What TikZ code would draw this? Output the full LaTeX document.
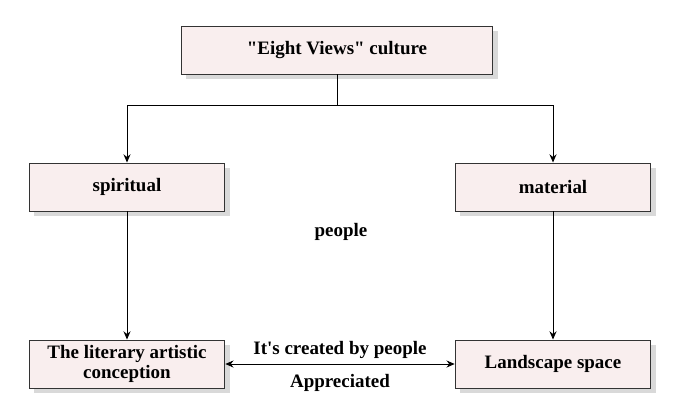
\documentclass[tikz,border=0pt]{standalone}
\usepackage{fontspec}
\defaultfontfeatures[\rmfamily]{}
\setmainfont{Liberation Serif}
\usetikzlibrary{shadows, arrows.meta}
\definecolor{boxfill}{HTML}{F9EEEE}
\tikzset{
  box/.style={draw=black!80, fill=boxfill, line width=0.8pt, minimum width=#1, minimum height=41pt,
    align=center, inner sep=1pt, font=\fontsize{16.2}{17.5}\selectfont\bfseries,
    drop shadow={shadow xshift=4pt, shadow yshift=-4pt, fill=black!15, opacity=1}},
  box/.default=167pt,
  lbl/.style={font=\fontsize{16.2}{17.5}\selectfont\bfseries}
}
\begin{document}
\begin{tikzpicture}[x=0.03cm, y=-0.03cm, line width=0.8pt, >={Stealth[length=7pt, width=6pt]}] %{,}
\useasboundingbox (0,0) rectangle (680,392);
\node[box=266pt] (P_0_0) at (337,50) {"Eight Views" culture};
\node[box] (P_1_0) at (127,187) {spiritual};
\node[box] (P_1_1) at (553,187) {material};
\node[lbl] (P_1_2) at (341,232) {people};
\node[box] (P_2_0) at (127,364) {The literary artistic\\conception};
\node[box] (P_2_1) at (553,364) {Landscape space};
\coordinate (J_0) at (337,105);
\draw (P_0_0) -- (J_0);
\draw[->] (J_0) -| (P_1_0);
\draw[->] (J_0) -| (P_1_1);
\draw[->] (P_1_0) -- (P_2_0);
\draw[->] (P_1_1) -- (P_2_1);
\draw[<->] (P_2_0) -- (P_2_1) node[midway, above=1pt, lbl] {It's created by people}
  node[midway, below=5pt, lbl] {Appreciated};
\end{tikzpicture}
\end{document}
